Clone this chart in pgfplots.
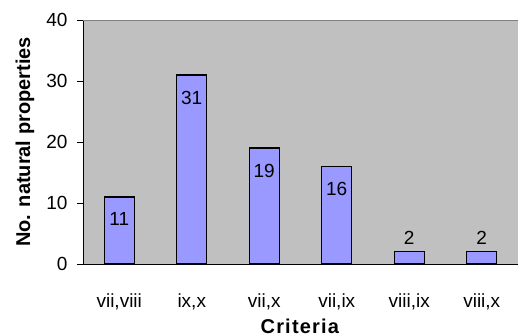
\documentclass[border=0pt]{standalone}
\usepackage{pgfplots}
\pgfplotsset{compat=1.18}
\usepackage{fontspec}
\setmainfont{Liberation Sans}
\definecolor{barfill}{HTML}{9999FF}
\definecolor{plotbg}{HTML}{C0C0C0}
\begin{document}
\begin{tikzpicture}[x=1pt,y=1pt]
\useasboundingbox (0,0) rectangle (518,336);
\begin{axis}[
  at={(83pt,72pt)}, anchor=south west,
  scale only axis, width=435pt, height=244pt,
  xmin=-0.5, xmax=5.5, ymin=0, ymax=40,
  axis x line=bottom, axis y line=left,
  axis line style={-,black},
  axis background/.style={fill=plotbg},
  ytick={0,10,20,30,40},
  xtick={0,1,2,3,4,5},
  xticklabels={{vii,viii},{ix,x},{vii,x},{vii,ix},{viii,ix},{viii,x}},
  x tick style={draw=none},
  extra x ticks={-0.5,0.5,1.5,2.5,3.5,4.5,5.5},
  extra x tick labels={},
  extra x tick style={tick style={draw=black}},
  major tick length=6pt,
  xtick align=outside, ytick align=outside,
  y tick style={black},
  tick label style={font=\fontsize{19pt}{22pt}\selectfont},
  /pgf/number format/assume math mode=true,
  xticklabel style={anchor=center, yshift=-32pt},
  yticklabel style={anchor=east, xshift=-6pt},
  xlabel={\fontsize{20pt}{24pt}\selectfont\addfontfeatures{LetterSpace=6}\textbf{Criteria}},
  ylabel={\fontsize{20pt}{24pt}\selectfont\textbf{No. natural properties}},
  xlabel style={at={(rel axis cs:0.5,0)}, anchor=center, yshift=-62pt},
  ylabel style={at={(rel axis cs:0,0.5)}, anchor=center, yshift=58pt},
  ybar, bar width=30pt, bar shift=0pt,
  nodes near coords,
  every node near coord/.append style={font=\fontsize{19pt}{22pt}\selectfont, black},
]
\addplot[fill=barfill, draw=black, line width=1.3pt,
  nodes near coords style={anchor=north, yshift=-12pt}]
  coordinates {(0,11) (1,31) (2,19) (3,16)};
\addplot[fill=barfill, draw=black, line width=1.3pt,
  nodes near coords style={anchor=south, yshift=3pt}]
  coordinates {(4,2) (5,2)};
\draw[gray, line width=0.8pt] (rel axis cs:0,1) -- (rel axis cs:1,1);
\end{axis}
\end{tikzpicture}
\end{document}
